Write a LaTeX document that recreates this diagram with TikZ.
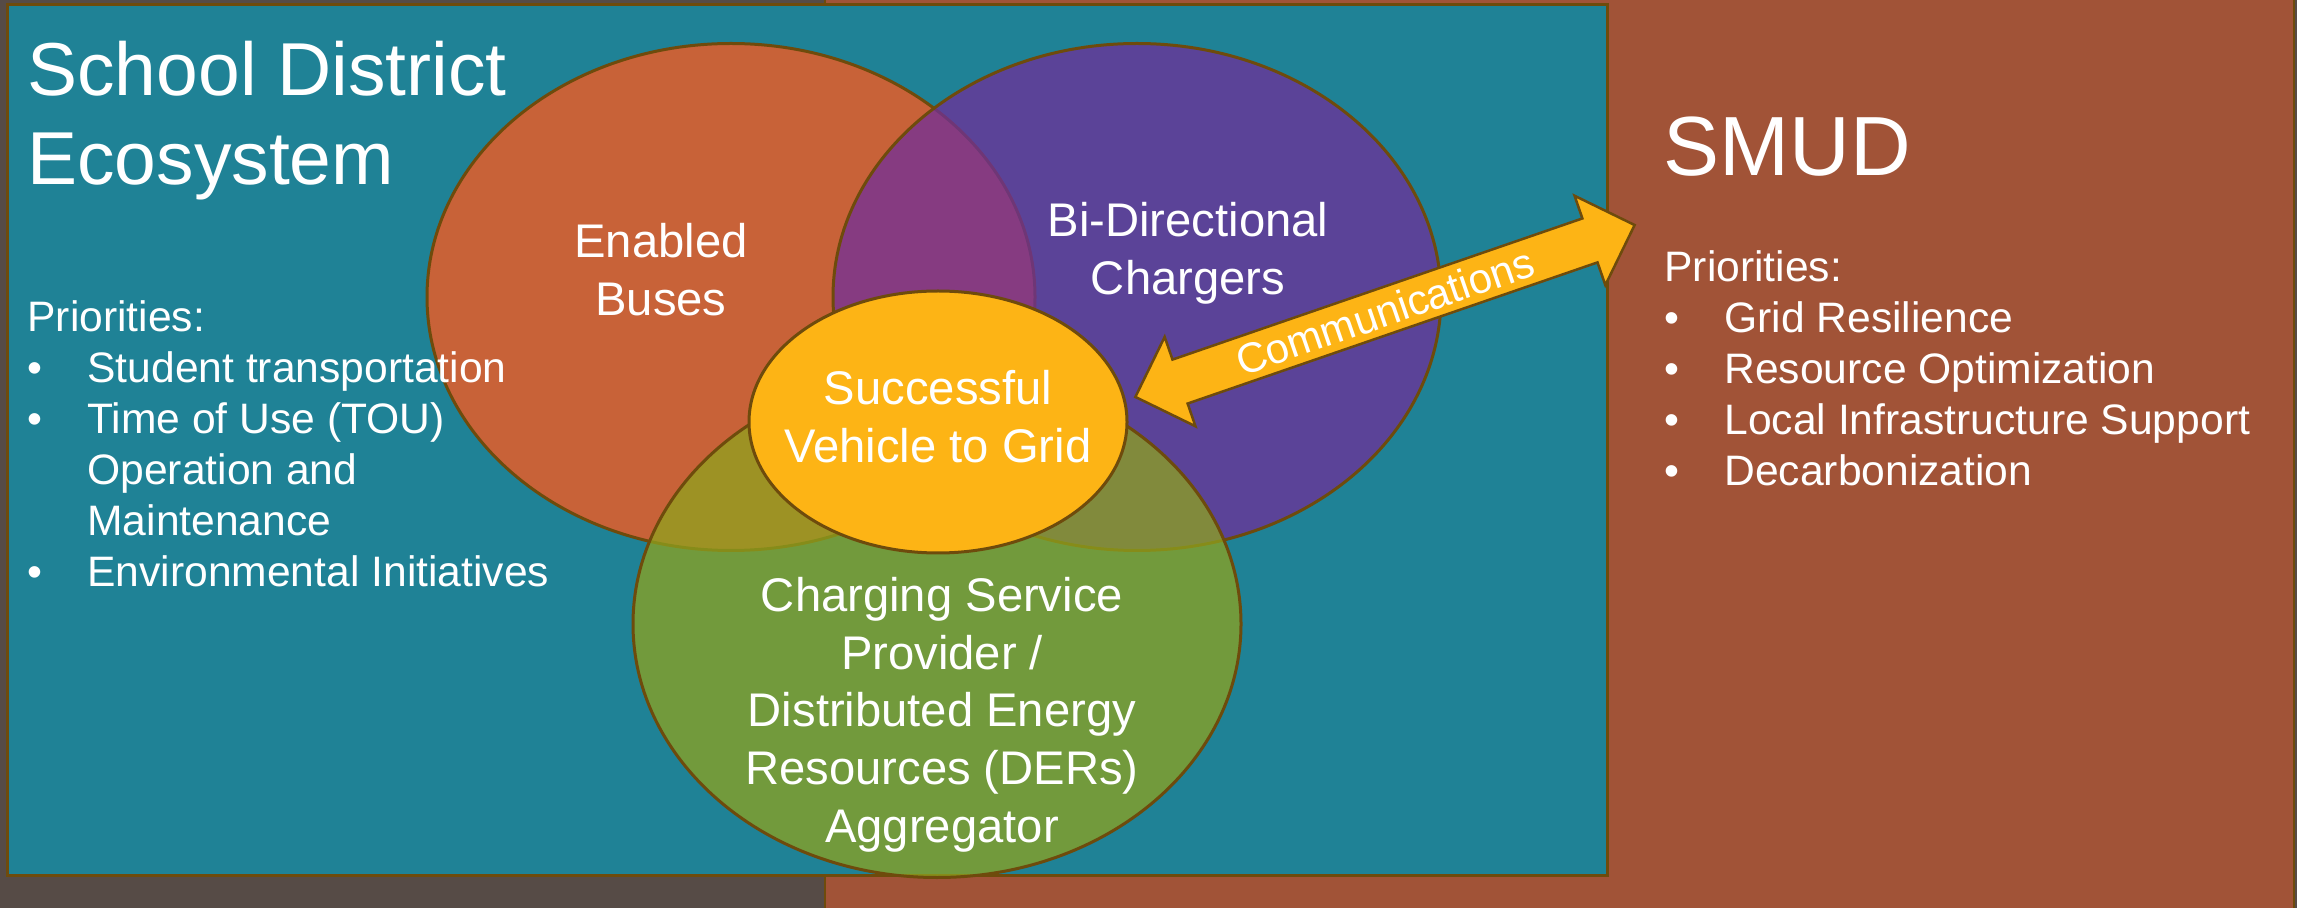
\documentclass[tikz,border=0pt]{standalone}
\usepackage{fontspec}
\setmainfont{Liberation Sans}
\usetikzlibrary{shapes.geometric,shapes.arrows}

\definecolor{slate}{HTML}{564B46}
\definecolor{rust}{HTML}{A15337}
\definecolor{sdteal}{HTML}{1F8296}
\definecolor{edge}{HTML}{6E4B0C}
\definecolor{busorange}{HTML}{C86238}
\definecolor{chgpurple}{HTML}{702F9A}
\definecolor{cspgreen}{HTML}{8FA31E}
\definecolor{v2gyellow}{HTML}{FDB415}

\newcommand{\bul}{\makebox[30pt][l]{\textbullet}}
\newcommand{\pad}{\hspace*{30pt}}

\begin{document}
\begin{tikzpicture}[x=0.5pt, y=-0.5pt,
  venn/.style={ellipse, draw=edge, line width=1.5pt, inner sep=0pt,
    minimum width=304pt, minimum height=253.5pt},
  txt/.style={text=white, align=center, anchor=base,
    font=\fontsize{23.6}{29}\selectfont},
  lst/.style={text=white, align=left, anchor=base west, inner sep=0pt,
    font=\fontsize{21.3}{25.5}\selectfont}]

\useasboundingbox (0,0) rectangle (2297,908);

% Background
\fill[slate] (0,0) rectangle (2297,908);
\filldraw[fill=rust, draw=edge, line width=1pt] (825,-10) rectangle (2294,918);
\filldraw[fill=sdteal, draw=edge, line width=1.5pt] (7,5) rectangle (1607,875);

% Circles
\node (buses) [venn, fill=busorange] at (731,297) {};
\node (chargers) [venn, fill=chgpurple, fill opacity=0.75] at (1137,297) {};
\node (csp) [venn, fill=cspgreen, fill opacity=0.75] at (937,624) {};
\node (v2g) [venn, fill=v2gyellow, minimum width=189pt, minimum height=131pt] at (938,422) {};

% Circle labels (placed by the baseline of the last line)
\node (buslabel) [txt] at (661,316) {Enabled\\Buses};
\node (chglabel) [txt] at (1188,295) {Bi-Directional\\Chargers};
\node (v2glabel) [txt] at (938,463) {Successful\\Vehicle to Grid};
\node (csplabel) [txt, font=\fontsize{23.6}{28.8}\selectfont] at (942,842)
  {Charging Service\\Provider /\\Distributed Energy\\Resources (DERs)\\Aggregator};

% Side texts
\node (sdtitle) [lst, font=\fontsize{37.5}{44.5}\selectfont] at (27,185) {School District\\Ecosystem};
\node (sdlist) [lst] at (27,587) {Priorities:\\
  \bul Student transportation\\
  \bul Time of Use (TOU)\\
  \pad Operation and\\
  \pad Maintenance\\
  \bul Environmental Initiatives};
\node (smud) [lst, font=\fontsize{42}{50}\selectfont] at (1663,176) {SMUD};
\node (smudlist) [lst] at (1664,486) {Priorities:\\
  \bul Grid Resilience\\
  \bul Resource Optimization\\
  \bul Local Infrastructure Support\\
  \bul Decarbonization};

% Arrow
\node (comms) [double arrow, draw=edge, fill=v2gyellow, line width=1.25pt,
  minimum height=264pt, minimum width=46pt, double arrow head extend=12pt,
  text height=15.3pt, text depth=0pt, inner xsep=0pt, inner ysep=3.35pt,
  rotate=19, text=white, font=\fontsize{21}{25}\selectfont]
  at (1385,311) {Communications};

\end{tikzpicture}
\end{document}
